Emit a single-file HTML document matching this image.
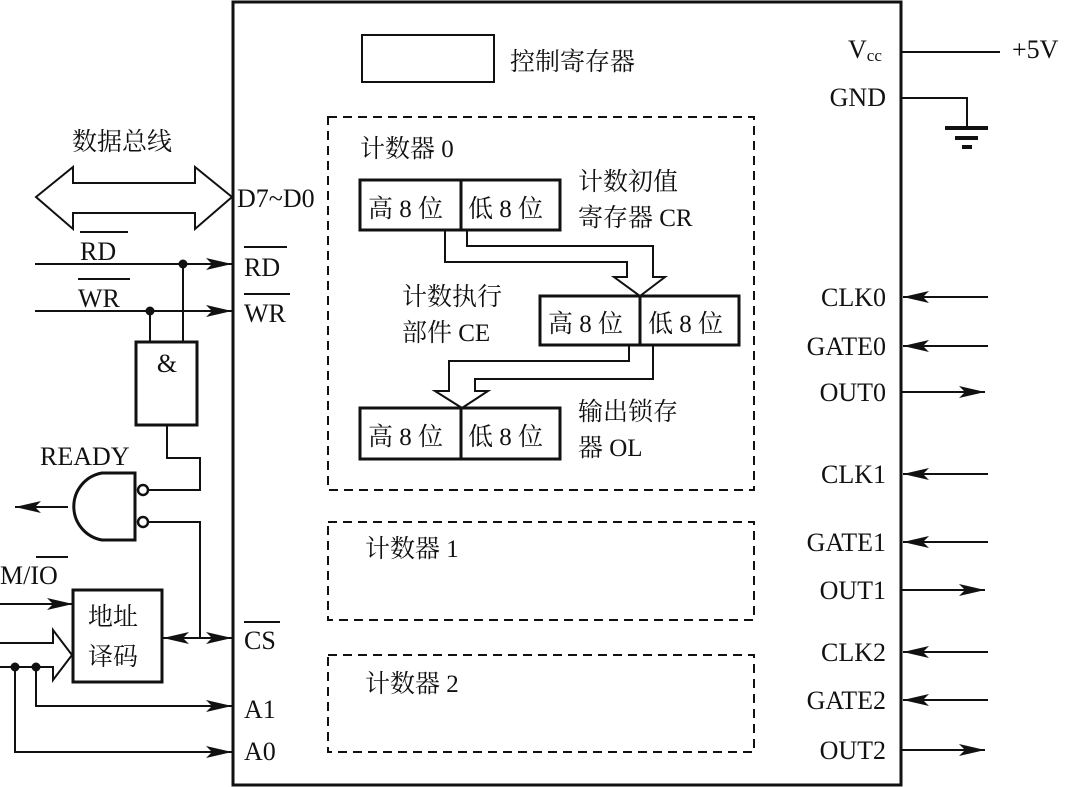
<!DOCTYPE html>
<html><head><meta charset="utf-8"><style>
body{margin:0;background:#fff}
svg{display:block}
text{font-family:"Liberation Serif","Noto Serif CJK SC",serif;font-size:26px;fill:#111}
.c{font-family:"Liberation Serif","Noto Serif CJK SC",serif;font-size:25px}
</style></head><body>
<svg width="1070" height="787" viewBox="0 0 1070 787" xmlns="http://www.w3.org/2000/svg">
<defs>
<marker id="a" markerWidth="28" markerHeight="12" refX="26" refY="6" orient="auto" markerUnits="userSpaceOnUse">
<path d="M0,0 L26,6 L0,12 L6,6 Z" fill="#111"/></marker>
</defs>
<g stroke="#111" fill="none" stroke-width="2">
<rect x="233" y="2" width="668" height="783" stroke-width="3"/>
<rect x="362" y="35" width="132" height="47"/>
<g stroke-dasharray="9,6"><rect x="328" y="117" width="426" height="373"/>
<rect x="328" y="522" width="426" height="98"/>
<rect x="328" y="655" width="426" height="97"/></g>
<rect x="360" y="180" width="200" height="50" stroke-width="3"/><line x1="461" y1="180" x2="461" y2="230" stroke-width="3"/>
<rect x="540" y="296" width="199" height="49" stroke-width="3"/><line x1="640" y1="296" x2="640" y2="345" stroke-width="3"/>
<rect x="360" y="408" width="200" height="51" stroke-width="3"/><line x1="461" y1="408" x2="461" y2="459" stroke-width="3"/>
<path d="M445,230 V262 H627 V277 H614 L640,296 L665,277 H653 V246 H467 V230"/>
<path d="M629,345 V361 H449 V391 H435 L462,408 L488,391 H475 V379 H653 V345"/>
<line x1="901" y1="52" x2="1000" y2="52"/>
<path d="M901,98 H967 V128"/>
<line x1="945" y1="128" x2="988" y2="128" stroke-width="4"/>
<line x1="955" y1="138" x2="978" y2="138" stroke-width="4"/>
<line x1="962" y1="147" x2="972" y2="147" stroke-width="4"/>
<g marker-end="url(#a)">
<line x1="988" y1="297" x2="903" y2="297"/>
<line x1="988" y1="346" x2="903" y2="346"/>
<line x1="901" y1="392" x2="985" y2="392"/>
<line x1="988" y1="474" x2="903" y2="474"/>
<line x1="988" y1="542" x2="903" y2="542"/>
<line x1="901" y1="590" x2="985" y2="590"/>
<line x1="988" y1="652" x2="903" y2="652"/>
<line x1="988" y1="700" x2="903" y2="700"/>
<line x1="901" y1="750" x2="985" y2="750"/>
<line x1="35" y1="264" x2="232" y2="264"/>
<line x1="35" y1="311" x2="232" y2="311"/>
<line x1="68" y1="507" x2="15" y2="507"/>
<line x1="0" y1="604" x2="73" y2="604"/>
<line x1="200" y1="638" x2="232" y2="638"/>
<line x1="200" y1="638" x2="163" y2="638"/>
<path d="M36,667 V706 H232"/>
<path d="M15,667 V752 H232"/>
</g>
<path d="M36,197 L73,167 V183 H195 V167 L232,197 L195,229 V213 H73 V229 Z"/>
<line x1="150" y1="311" x2="150" y2="342"/>
<line x1="183" y1="264" x2="183" y2="342"/>
<rect x="136" y="342" width="61" height="83" stroke-width="3"/>
<path d="M167,425 V458 H200 V490 H148"/>
<path d="M148,522 H200 V638"/>
<path d="M135,473 H102 A34,34 0 0 0 102,540 H135 Z" stroke-width="3"/>
<circle cx="143" cy="490" r="5" stroke-width="2.5" fill="#fff"/>
<circle cx="143" cy="522" r="5" stroke-width="2.5" fill="#fff"/>
<rect x="73" y="590" width="89" height="92" stroke-width="3"/>
<path d="M0,643 H53 V630 L72,655 L53,680 V667 H0"/>
</g>
<circle cx="183" cy="264" r="4.5" fill="#111"/><circle cx="150" cy="311" r="4.5" fill="#111"/>
<circle cx="15" cy="667" r="4.5" fill="#111"/><circle cx="36" cy="667" r="4.5" fill="#111"/>
<g stroke="#111" stroke-width="2">
<line x1="80" y1="232" x2="128" y2="232"/><line x1="78" y1="279" x2="130" y2="279"/>
<line x1="244" y1="247" x2="287" y2="247"/><line x1="244" y1="294" x2="290" y2="294"/>
<line x1="244" y1="622" x2="280" y2="622"/><line x1="36" y1="557" x2="68" y2="557"/>
</g>
<text class="c" x="510" y="70">控制寄存器</text>
<text class="c" x="360" y="157">计数器 0</text>
<text class="c" x="368" y="217">高 8 位</text><text class="c" x="468" y="217">低 8 位</text>
<text class="c" x="548" y="332">高 8 位</text><text class="c" x="648" y="332">低 8 位</text>
<text class="c" x="368" y="445">高 8 位</text><text class="c" x="468" y="445">低 8 位</text>
<text class="c" x="578" y="190">计数初值</text><text class="c" x="578" y="226">寄存器 CR</text>
<text class="c" x="402" y="305">计数执行</text><text class="c" x="402" y="341">部件 CE</text>
<text class="c" x="578" y="420">输出锁存</text><text class="c" x="578" y="456">器 OL</text>
<text class="c" x="365" y="557">计数器 1</text>
<text class="c" x="365" y="692">计数器 2</text>
<text class="c" x="72" y="150">数据总线</text>
<text class="c" x="88" y="625">地址</text><text class="c" x="88" y="665">译码</text>
<text x="237" y="207">D7~D0</text>
<text x="80" y="260">RD</text><text x="78" y="307">WR</text>
<text x="244" y="276">RD</text><text x="244" y="322">WR</text>
<text x="167" y="372" text-anchor="middle">&amp;</text>
<text x="40" y="465">READY</text>
<text x="0" y="584">M/IO</text>
<text x="244" y="649">CS</text><text x="244" y="718">A1</text><text x="244" y="760">A0</text>
<text x="848" y="58">V<tspan font-size="17" dy="3">cc</tspan></text>
<text x="1012" y="58">+5V</text>
<text x="886" y="106" text-anchor="end">GND</text>
<g text-anchor="end">
<text x="886" y="306">CLK0</text><text x="886" y="355">GATE0</text><text x="886" y="401">OUT0</text>
<text x="886" y="483">CLK1</text><text x="886" y="551">GATE1</text><text x="886" y="599">OUT1</text>
<text x="886" y="661">CLK2</text><text x="886" y="709">GATE2</text><text x="886" y="759">OUT2</text>
</g>
</svg>
</body></html>
